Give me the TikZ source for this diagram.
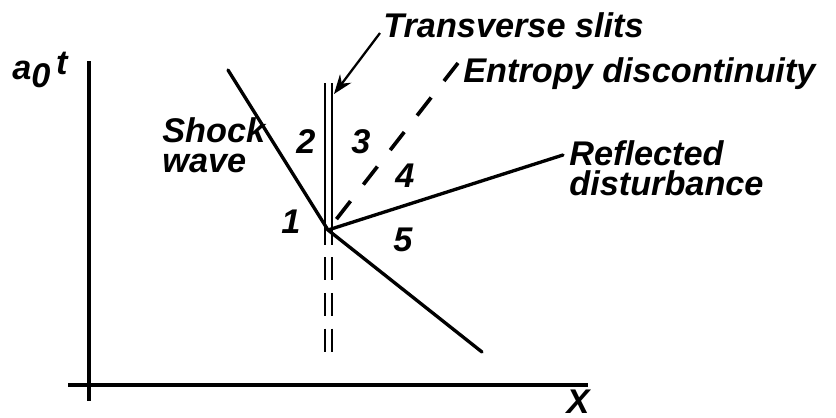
\documentclass[tikz,border=0pt]{standalone}
\usepackage{fontspec}
\setmainfont{Liberation Sans}
\usetikzlibrary{arrows.meta}

\begin{document}
\begin{tikzpicture}[x=0.02cm, y=-0.02cm,
  wave/.style={line width=1.9pt, line cap=round},
  axis/.style={line width=2.3pt},
  slit/.style={line width=1.5pt},
  lbl/.style={font=\fontsize{19.5}{17}\selectfont\bfseries\itshape, inner sep=0pt, align=left},
  zone/.style={font=\fontsize{19.5}{17}\selectfont\bfseries\itshape, inner sep=0pt}]
  \useasboundingbox (0,0) rectangle (836,417);

  % axes
  \coordinate (origin) at (89,385);
  \coordinate (ytop) at (89,61);
  \coordinate (ybot) at (89,401);
  \coordinate (xleft) at (68,385);
  \coordinate (xright) at (588,385);
  \draw[axis] (ytop) -- (ybot);
  \draw[axis] (xleft) -- (xright);
  \node[lbl] (tlab) at (40,70) {a\raisebox{-0.45ex}{0}\,\raisebox{0.25ex}{t}};
  \node[lbl] (xlab) at (578,402) {X};

  % waves meeting at the slits
  \coordinate (J) at (328,230);
  \coordinate (shocktop) at (228,70);
  \coordinate (shockbot) at (482,352);
  \coordinate (refl) at (563,155);
  \coordinate (entropy) at (458,63);
  \draw[wave] (shocktop) -- (J) -- (shockbot);
  \draw[wave] (J) -- (refl);
  \draw[wave, line width=2.1pt, line cap=butt, dash pattern=on 13pt off 11.9pt] (entropy) -- (J);

  % transverse slits
  \coordinate (slitLtop) at (325,83);
  \coordinate (slitLmid) at (325,245);
  \coordinate (slitRtop) at (332,83);
  \coordinate (slitRmid) at (332,245);
  \coordinate (slitLa) at (325,257);
  \coordinate (slitLb) at (325,353);
  \coordinate (slitRa) at (332,257);
  \coordinate (slitRb) at (332,353);
  \draw[slit] (slitLtop) -- (slitLmid);
  \draw[slit] (slitRtop) -- (slitRmid);
  \draw[slit, dash pattern=on 13pt off 7.4pt] (slitLa) -- (slitLb);
  \draw[slit, dash pattern=on 13pt off 7.4pt] (slitRa) -- (slitRb);

  % labels
  \node[lbl, anchor=base west] (slits) at (383,37) {Transverse slits};
  \coordinate (slitsarrow) at (380,33);
  \coordinate (slitstip) at (334,94);
  \draw[line width=1.3pt, -{Stealth[length=11pt, width=8pt]}] (slitsarrow) -- (slitstip);
  \node[lbl, anchor=base west] (entlab) at (463,82) {Entropy discontinuity};
  \node[lbl, anchor=west] (refllab) at (569,168) {Reflected\\disturbance};
  \node[lbl, anchor=west] (shocklab) at (162,145) {Shock\\wave};

  % regions
  \node[zone] (z1) at (291,222) {1};
  \node[zone] (z2) at (306,142) {2};
  \node[zone] (z3) at (361,142) {3};
  \node[zone] (z4) at (405,176) {4};
  \node[zone] (z5) at (403,240) {5};
\end{tikzpicture}
\end{document}
